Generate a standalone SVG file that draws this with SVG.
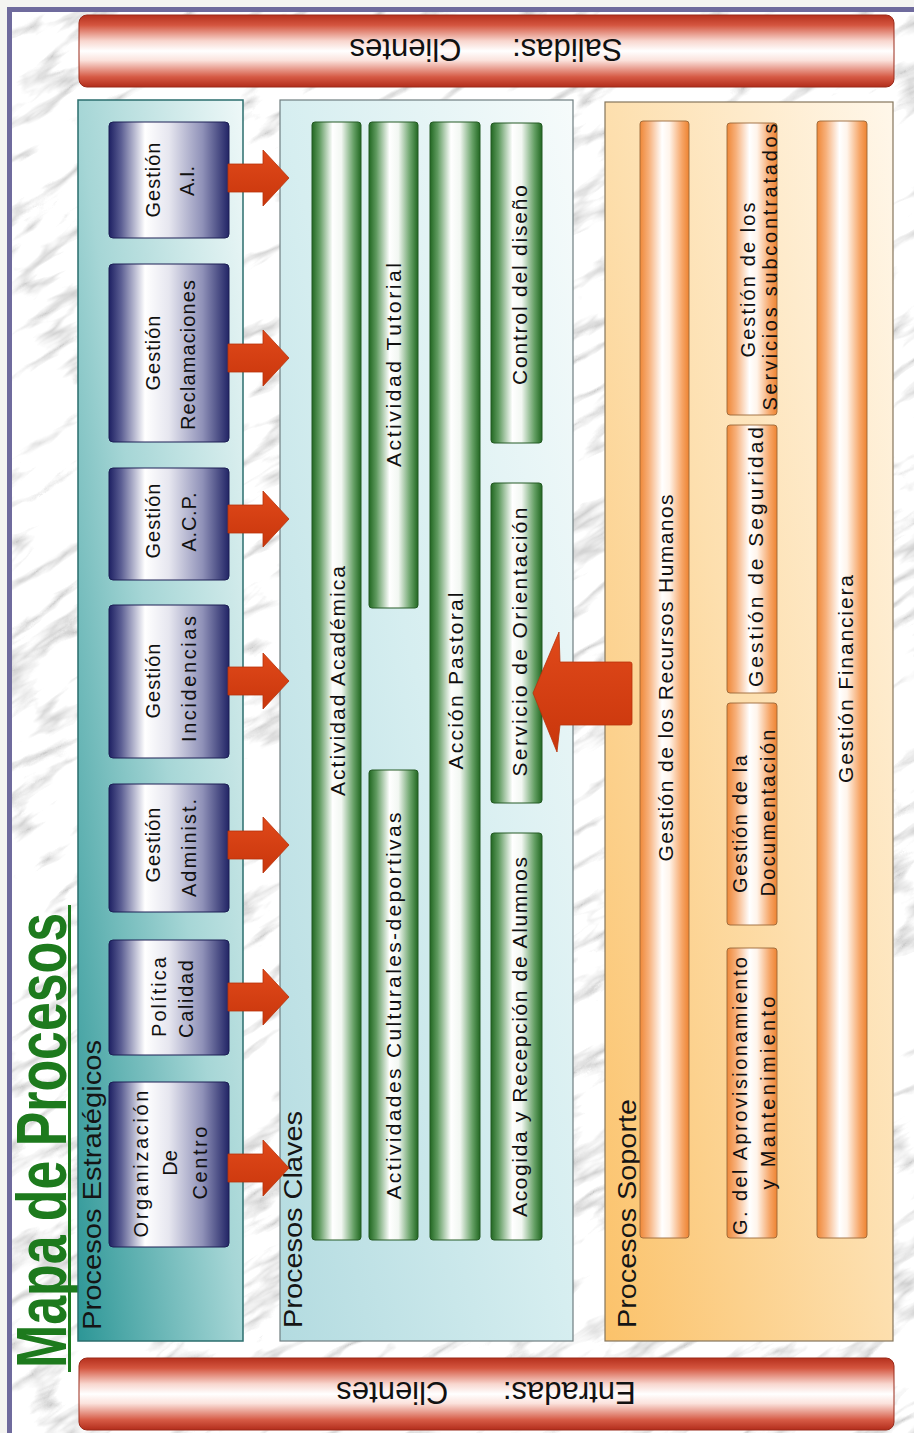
<svg xmlns="http://www.w3.org/2000/svg" width="914" height="1433" viewBox="0 0 914 1433">
<defs>
<style>
.t{font-family:"Liberation Sans",Arial,sans-serif;fill:#111}
.bx{font-size:20px}
.br{font-size:21px}
.or{font-size:20px}
.or1{font-size:21px}
.lbl{font-size:25px;fill:#151515}
.io{font-size:31px}
.ttl{font-family:"Liberation Sans",Arial,sans-serif;font-weight:bold;font-size:70px;fill:#1d7a1d}
.box{fill:url(#navy);stroke:#1c1f55;stroke-width:1}
.gbar{fill:url(#green);stroke:#245a24;stroke-width:1}
.obar{fill:url(#orange);stroke:#9a6638;stroke-width:0.9}
.rbar{fill:url(#redbar);stroke:#9a2a1a;stroke-width:1}
.arr{fill:url(#arrowg);stroke:#b8320a;stroke-width:0.8}
</style>
<clipPath id="frameclip"><rect x="12" y="12" width="902" height="1421"/></clipPath>
<filter id="marble" x="0" y="0" width="1" height="1" color-interpolation-filters="sRGB">
<feTurbulence type="turbulence" baseFrequency="0.028 0.007" numOctaves="4" seed="11"/>
<feColorMatrix type="matrix" values="0.75 0 0 0 0.8  0.75 0 0 0 0.8  0.75 0 0 0 0.8  0 0 0 0 1"/>
</filter>
<linearGradient id="redbar" x1="0" y1="0" x2="0" y2="1">
<stop offset="0" stop-color="#b5301d"/>
<stop offset="0.14" stop-color="#d4553f"/>
<stop offset="0.36" stop-color="#f8d6ce"/>
<stop offset="0.5" stop-color="#ffffff"/>
<stop offset="0.63" stop-color="#fbe2dc"/>
<stop offset="0.86" stop-color="#d65a45"/>
<stop offset="1" stop-color="#b22d1b"/>
</linearGradient>
<linearGradient id="navy" x1="0" y1="0" x2="1" y2="0">
<stop offset="0" stop-color="#1e2163"/>
<stop offset="0.1" stop-color="#5a5d92"/>
<stop offset="0.3" stop-color="#ffffff"/>
<stop offset="0.5" stop-color="#e6e6ef"/>
<stop offset="0.78" stop-color="#8f91b8"/>
<stop offset="1" stop-color="#222566"/>
</linearGradient>
<linearGradient id="green" x1="0" y1="0" x2="1" y2="0">
<stop offset="0" stop-color="#226822"/>
<stop offset="0.15" stop-color="#5f9a5f"/>
<stop offset="0.42" stop-color="#ffffff"/>
<stop offset="0.6" stop-color="#f2f7f2"/>
<stop offset="0.85" stop-color="#65a065"/>
<stop offset="1" stop-color="#226822"/>
</linearGradient>
<linearGradient id="orange" x1="0" y1="0" x2="1" y2="0">
<stop offset="0" stop-color="#ef8838"/>
<stop offset="0.18" stop-color="#f7b07a"/>
<stop offset="0.45" stop-color="#ffffff"/>
<stop offset="0.6" stop-color="#fff4ea"/>
<stop offset="0.86" stop-color="#f6a465"/>
<stop offset="1" stop-color="#ee8432"/>
</linearGradient>
<linearGradient id="tealp" x1="0" y1="1" x2="1" y2="0">
<stop offset="0" stop-color="#2c9696"/>
<stop offset="0.5" stop-color="#a6d6d6"/>
<stop offset="1" stop-color="#eef8f8"/>
</linearGradient>
<linearGradient id="cyanp" x1="0" y1="1" x2="1" y2="0">
<stop offset="0" stop-color="#b3dbe0"/>
<stop offset="0.5" stop-color="#d6eef0"/>
<stop offset="1" stop-color="#f6fbfb"/>
</linearGradient>
<linearGradient id="orangep" x1="0" y1="1" x2="1" y2="0">
<stop offset="0" stop-color="#fbc26a"/>
<stop offset="0.5" stop-color="#fddfae"/>
<stop offset="1" stop-color="#fff7ea"/>
</linearGradient>
<linearGradient id="arrowg" x1="0" y1="0" x2="0" y2="1">
<stop offset="0" stop-color="#e0491a"/>
<stop offset="1" stop-color="#c9360c"/>
</linearGradient>
</defs>

<!-- page and frame -->
<rect x="0" y="0" width="914" height="1433" fill="#f4f4f1"/>
<g clip-path="url(#frameclip)">
<rect x="12" y="12" width="902" height="1421" fill="#ececec"/>
<rect transform="rotate(58 457 722)" x="-450" y="-200" width="1814" height="1844" fill="#ececec" filter="url(#marble)"/>
</g>
<rect x="9.5" y="9.5" width="1000" height="1500" fill="none" stroke="#6f6b9d" stroke-width="5"/>

<!-- title -->
<g id="title">
<text class="ttl" transform="translate(66,1368) rotate(-90)" textLength="455" lengthAdjust="spacingAndGlyphs">Mapa de Procesos</text>
<line x1="69.5" y1="905" x2="69.5" y2="1372" stroke="#1d7a1d" stroke-width="3"/>
</g>

<!-- outputs / inputs -->
<g id="salidas">
<rect class="rbar" x="79" y="15" width="815" height="72" rx="8"/>
<text class="t io" transform="translate(486,39) rotate(180)" text-anchor="middle">Salidas: <tspan dx="42">Clientes</tspan></text>
</g>
<g id="entradas">
<rect class="rbar" x="79" y="1358" width="815" height="72" rx="8"/>
<text class="t io" transform="translate(486,1382) rotate(180)" text-anchor="middle">Entradas: <tspan dx="46">Clientes</tspan></text>
</g>

<!-- panels -->
<g id="procesos-estrategicos">
<rect x="78" y="100" width="165" height="1241" fill="url(#tealp)" stroke="#2b6e6e" stroke-width="1.5"/>
<text class="t lbl" transform="translate(101,1330) rotate(-90)" textLength="290" lengthAdjust="spacingAndGlyphs">Procesos Estratégicos</text>
</g>
<g id="procesos-claves">
<rect x="280" y="100" width="293" height="1241" fill="url(#cyanp)" stroke="#6f7e80" stroke-width="1.2"/>
<text class="t lbl" transform="translate(302,1328) rotate(-90)" textLength="217" lengthAdjust="spacingAndGlyphs">Procesos Claves</text>
</g>
<g id="procesos-soporte">
<rect x="605" y="102" width="288" height="1239" fill="url(#orangep)" stroke="#85765c" stroke-width="1.2"/>
<text class="t lbl" transform="translate(636,1328) rotate(-90)" textLength="229" lengthAdjust="spacingAndGlyphs">Procesos Soporte</text>
</g>

<!-- strategic nodes -->
<g id="gestion-ai">
<rect class="box" x="109" y="122" width="120" height="116" rx="4"/>
<text class="t bx" transform="translate(160,180) rotate(-90)" text-anchor="middle" textLength="75">Gestión</text>
<text class="t bx" transform="translate(194,181) rotate(-90)" text-anchor="middle">A.I.</text>
</g>
<g id="gestion-reclamaciones">
<rect class="box" x="109" y="264" width="120" height="178" rx="4"/>
<text class="t bx" transform="translate(160,353) rotate(-90)" text-anchor="middle" textLength="75">Gestión</text>
<text class="t bx" transform="translate(195,355) rotate(-90)" text-anchor="middle" textLength="150">Reclamaciones</text>
</g>
<g id="gestion-acp">
<rect class="box" x="109" y="468" width="120" height="112" rx="4"/>
<text class="t bx" transform="translate(160,521) rotate(-90)" text-anchor="middle" textLength="75">Gestión</text>
<text class="t bx" transform="translate(196,522) rotate(-90)" text-anchor="middle" textLength="59">A.C.P.</text>
</g>
<g id="gestion-incidencias">
<rect class="box" x="109" y="605" width="120" height="153" rx="4"/>
<text class="t bx" transform="translate(160,681) rotate(-90)" text-anchor="middle" textLength="75">Gestión</text>
<text class="t bx" transform="translate(196,679) rotate(-90)" text-anchor="middle" textLength="126">Incidencias</text>
</g>
<g id="gestion-administ">
<rect class="box" x="109" y="784" width="120" height="128" rx="4"/>
<text class="t bx" transform="translate(160,845) rotate(-90)" text-anchor="middle" textLength="75">Gestión</text>
<text class="t bx" transform="translate(196,848) rotate(-90)" text-anchor="middle" textLength="98">Administ.</text>
</g>
<g id="politica-calidad">
<rect class="box" x="109" y="940" width="120" height="115" rx="4"/>
<text class="t bx" transform="translate(166,997) rotate(-90)" text-anchor="middle" textLength="80">Política</text>
<text class="t bx" transform="translate(193,999) rotate(-90)" text-anchor="middle" textLength="78">Calidad</text>
</g>
<g id="organizacion-centro">
<rect class="box" x="109" y="1082" width="120" height="165" rx="4"/>
<text class="t bx" transform="translate(148,1164) rotate(-90)" text-anchor="middle" textLength="147">Organización</text>
<text class="t bx" transform="translate(177,1163) rotate(-90)" text-anchor="middle">De</text>
<text class="t bx" transform="translate(207,1163) rotate(-90)" text-anchor="middle" textLength="73">Centro</text>
</g>

<!-- key process nodes -->
<g id="actividad-academica">
<rect class="gbar" x="312" y="122" width="49" height="1118" rx="3"/>
<text class="t br" transform="translate(345,681) rotate(-90)" text-anchor="middle" textLength="230">Actividad Académica</text>
</g>
<g id="actividad-tutorial">
<rect class="gbar" x="369" y="122" width="49" height="486" rx="3"/>
<text class="t br" transform="translate(401,365) rotate(-90)" text-anchor="middle" textLength="204">Actividad Tutorial</text>
</g>
<g id="actividades-culturales-deportivas">
<rect class="gbar" x="369" y="770" width="49" height="470" rx="3"/>
<text class="t br" transform="translate(401,1006) rotate(-90)" text-anchor="middle" textLength="387">Actividades Culturales-deportivas</text>
</g>
<g id="accion-pastoral">
<rect class="gbar" x="430" y="122" width="50" height="1118" rx="3"/>
<text class="t br" transform="translate(463,681) rotate(-90)" text-anchor="middle" textLength="177">Acción  Pastoral</text>
</g>
<g id="control-diseno">
<rect class="gbar" x="491" y="123" width="51" height="320" rx="3"/>
<text class="t br" transform="translate(527,285) rotate(-90)" text-anchor="middle" textLength="200">Control del diseño</text>
</g>
<g id="servicio-orientacion">
<rect class="gbar" x="491" y="483" width="51" height="320" rx="3"/>
<text class="t br" transform="translate(527,642) rotate(-90)" text-anchor="middle" textLength="269">Servicio de Orientación</text>
</g>
<g id="acogida-recepcion">
<rect class="gbar" x="491" y="833" width="51" height="407" rx="3"/>
<text class="t br" transform="translate(527,1037) rotate(-90)" text-anchor="middle" textLength="360">Acogida y Recepción de Alumnos</text>
</g>

<!-- support nodes -->
<g id="recursos-humanos">
<rect class="obar" x="640" y="121" width="49" height="1117" rx="3"/>
<text class="t or1" transform="translate(673,678) rotate(-90)" text-anchor="middle" textLength="367">Gestión de los Recursos Humanos</text>
</g>
<g id="servicios-subcontratados">
<rect class="obar" x="727" y="123" width="50" height="292" rx="3"/>
<text class="t or" transform="translate(755,280) rotate(-90)" text-anchor="middle" textLength="155">Gestión de los</text>
<text class="t or" transform="translate(777,267) rotate(-90)" text-anchor="middle" textLength="287">Servicios subcontratados</text>
</g>
<g id="seguridad">
<rect class="obar" x="727" y="425" width="50" height="268" rx="3"/>
<text class="t or1" transform="translate(763,557) rotate(-90)" text-anchor="middle" textLength="260">Gestión de  Seguridad</text>
</g>
<g id="documentacion">
<rect class="obar" x="727" y="703" width="50" height="222" rx="3"/>
<text class="t or" transform="translate(747,824) rotate(-90)" text-anchor="middle" textLength="138">Gestión de la</text>
<text class="t or" transform="translate(775,813) rotate(-90)" text-anchor="middle" textLength="167">Documentación</text>
</g>
<g id="aprovisionamiento-mantenimiento">
<rect class="obar" x="727" y="948" width="50" height="290" rx="3"/>
<text class="t or" transform="translate(747,1096) rotate(-90)" text-anchor="middle" textLength="278">G. del Aprovisionamiento</text>
<text class="t or" transform="translate(775,1093) rotate(-90)" text-anchor="middle" textLength="193">y Mantenimiento</text>
</g>
<g id="financiera">
<rect class="obar" x="817" y="121" width="50" height="1117" rx="3"/>
<text class="t or1" transform="translate(853,679) rotate(-90)" text-anchor="middle" textLength="208">Gestión Financiera</text>
</g>

<!-- connectors -->
<g id="connectors">
<path class="arr" d="M228,164 L263,164 L263,150 L289,178 L263,206 L263,192 L228,192 Z"/>
<path class="arr" d="M228,344 L263,344 L263,330 L289,358 L263,386 L263,372 L228,372 Z"/>
<path class="arr" d="M228,505 L263,505 L263,491 L289,519 L263,547 L263,533 L228,533 Z"/>
<path class="arr" d="M228,667 L263,667 L263,653 L289,681 L263,709 L263,695 L228,695 Z"/>
<path class="arr" d="M228,831 L263,831 L263,817 L289,845 L263,873 L263,859 L228,859 Z"/>
<path class="arr" d="M228,983 L263,983 L263,969 L289,997 L263,1025 L263,1011 L228,1011 Z"/>
<path class="arr" d="M228,1154 L263,1154 L263,1140 L289,1168 L263,1196 L263,1182 L228,1182 Z"/>
<path class="arr" d="M630,662 L560,662 L559,632 L533,693 L557,752 L560,725 L630,725 Q632,725 632,723 L632,664 Q632,662 630,662 Z"/>
</g>
</svg>
